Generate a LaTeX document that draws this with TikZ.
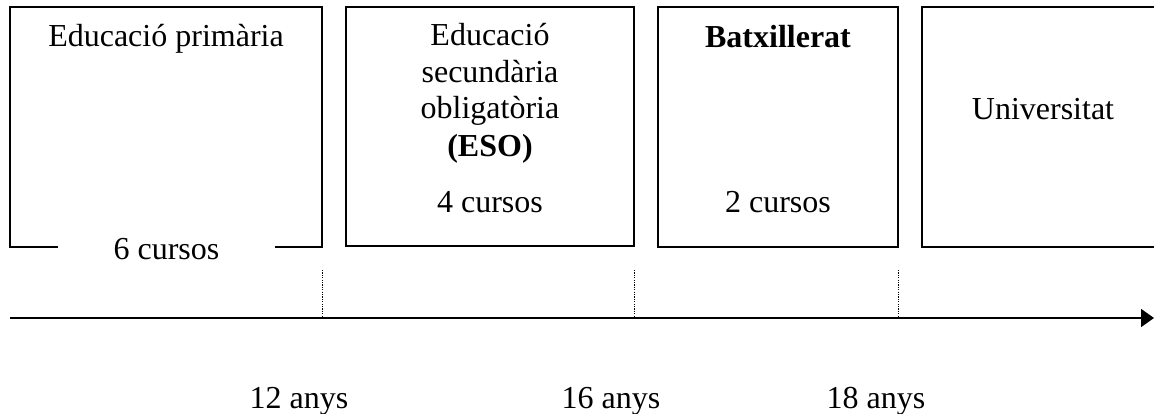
\documentclass[tikz,border=0pt]{standalone}
\usepackage{fontspec}
\setmainfont{Liberation Serif}
\usetikzlibrary{arrows.meta}
\begin{document}
\begin{tikzpicture}[x=1pt,y=-1pt,
  stage/.style={draw=black,line width=1.6pt,rectangle,inner sep=0pt},
  lbl/.style={anchor=base,inner sep=0pt,font=\fontsize{32}{38}\selectfont},
  tick/.style={line width=1pt,dash pattern=on 1.2pt off 1.2pt},
  axis/.style={line width=1.8pt,-{Triangle[length=13pt,width=18pt]}}]
\useasboundingbox (0,0) rectangle (1154,414);
\clip (0,0) rectangle (1154,414);
% boxes
\node[stage,minimum width=312pt,minimum height=240pt] (b1) at (166,127) {};
\node[stage,minimum width=288pt,minimum height=239pt] (b2) at (490,126.5) {};
\node[stage,minimum width=240pt,minimum height=240pt] (b3) at (778,127) {};
\node[stage,minimum width=258pt,minimum height=240pt] (b4) at (1051,127) {};
% box texts
\node[lbl] (t1) at (166,47) {Educació primària};
\node[lbl,fill=white,minimum width=217pt] (c1) at (166.5,259) {6 cursos};
\node[lbl] (t2a) at (490,46) {Educació};
\node[lbl] (t2b) at (490,83) {secundària};
\node[lbl] (t2c) at (490,119) {obligatòria};
\node[lbl] (t2d) at (490,157) {\textbf{(ESO)}};
\node[lbl] (c2) at (490,213) {4 cursos};
\node[lbl] (t3) at (778,48) {\textbf{Batxillerat}};
\node[lbl] (c3) at (778,213) {2 cursos};
\node[lbl] (t4) at (1043,120) {Universitat};
% axis
\coordinate (a0) at (10,318);
\coordinate (a1) at (1154,318);
\draw[axis] (a0) -- (a1);
% ticks
\coordinate (d1t) at (322,270); \coordinate (d1b) at (322,318);
\coordinate (d2t) at (634,270); \coordinate (d2b) at (634,318);
\coordinate (d3t) at (898,270); \coordinate (d3b) at (898,318);
\draw[tick] (d1t) -- (d1b);
\draw[tick] (d2t) -- (d2b);
\draw[tick] (d3t) -- (d3b);
% ages
\node[lbl] (y1) at (299,408) {12 anys};
\node[lbl] (y2) at (611,408) {16 anys};
\node[lbl] (y3) at (876,408) {18 anys};
\end{tikzpicture}
\end{document}
